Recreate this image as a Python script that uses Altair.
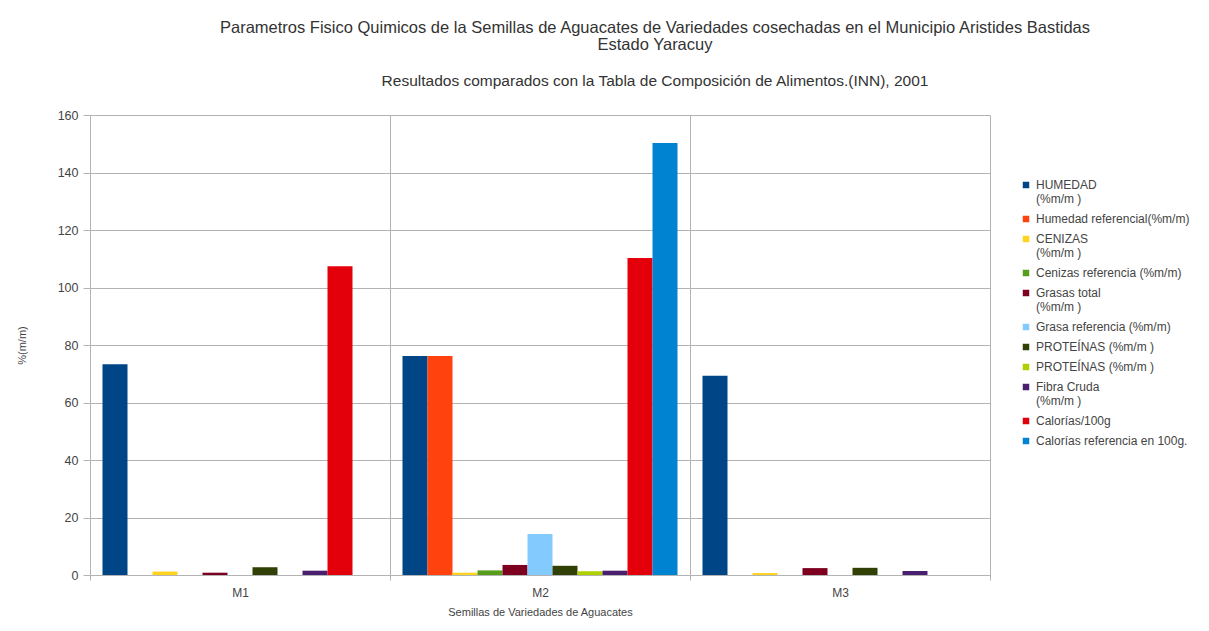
import altair as alt
import pandas as pd

categories = ["M1", "M2", "M3"]
series = [
    "HUMEDAD|\u00a0(%m/m )",
    "Humedad referencial(%m/m)",
    "CENIZAS|\u00a0(%m/m )",
    "Cenizas referencia (%m/m)",
    "Grasas total|\u00a0(%m/m )",
    "Grasa referencia (%m/m)",
    "PROTEÍNAS (%m/m )",
    "PROTEÍNAS (%m/m )\u00a0",
    "Fibra Cruda|\u00a0(%m/m )",
    "Calorías/100g",
    "Calorías referencia en 100g.",
]
colors = ["#004586", "#ff420e", "#ffd320", "#579d1c", "#7e0021", "#83caff",
          "#314004", "#aecf00", "#4b1f6f", "#e3000b", "#0084d1"]

m1_values = [73.3, None, 1.2, None, 0.8, None, 2.7, None, 1.5, 107.4, None]
m2_values = [76.2, 76.2, 0.8, 1.6, 3.5, 14.3, 3.2, 1.3, 1.5, 110.3, 150.3]
m3_values = [69.3, None, 0.7, None, 2.4, None, 2.5, None, 1.4, None, None]

rows = []
for cat, vals in zip(categories, [m1_values, m2_values, m3_values]):
    for s, v in zip(series, vals):
        if v is not None:
            rows.append({"cat": cat, "serie": s, "val": v})
df = pd.DataFrame(rows)

FONT = "Liberation Sans"

chart = alt.Chart(df).mark_bar().encode(
    x=alt.X("cat:N",
            scale=alt.Scale(domain=categories, paddingInner=0, paddingOuter=0),
            axis=alt.Axis(title="Semillas de Variedades de Aguacates", labelAngle=0,
                          tickBand="extent", grid=True, tickSize=5, labelPadding=7,
                          labelFontSize=12, titlePadding=8, titleFontSize=11)),
    xOffset=alt.XOffset("serie:N",
                        scale=alt.Scale(domain=series, paddingInner=0, paddingOuter=0.5)),
    y=alt.Y("val:Q", scale=alt.Scale(domain=[0, 160]),
            axis=alt.Axis(title="%(m/m)", values=list(range(0, 161, 20)), tickSize=7,
                          labelPadding=5, labelFontSize=12.5, titlePadding=30,
                          titleFontSize=11)),
    color=alt.Color("serie:N", scale=alt.Scale(domain=series, range=colors),
                    legend=alt.Legend(title=None, orient="none", legendX=930, legendY=64,
                                      symbolType="square", symbolSize=42,
                                      symbolStrokeWidth=0, labelFontSize=12,
                                      labelFont=FONT, labelColor="#444",
                                      labelExpr="split(datum.label, '|')",
                                      labelLimit=300, rowPadding=8)),
).properties(
    width=900,
    height=460,
    autosize=alt.AutoSizeParams(type="none"),
    padding={"left": 82, "top": 107, "right": 211, "bottom": 48},
    title=alt.TitleParams(
        text=["Parametros Fisico Quimicos de la Semillas de Aguacates de Variedades cosechadas en el Municipio Aristides Bastidas",
              "Estado Yaracuy"],
        subtitle="Resultados comparados con la Tabla de Composición de  Alimentos.(INN), 2001",
        anchor="middle", dx=115, fontSize=16.5, fontWeight="normal", font=FONT,
        color="#333", lineHeight=17, subtitleFont=FONT, subtitleFontSize=15.5,
        subtitleColor="#333", subtitlePadding=20, offset=20,
    ),
).configure_view(stroke=None).configure_axis(
    domainColor="#b3b3b3", gridColor="#b3b3b3", tickColor="#b3b3b3",
    labelColor="#444", labelFont=FONT, labelFontSize=12,
    titleColor="#444", titleFont=FONT, titleFontWeight="normal",
)

chart.save("out.html", embed_options={"renderer": "svg", "actions": False})
